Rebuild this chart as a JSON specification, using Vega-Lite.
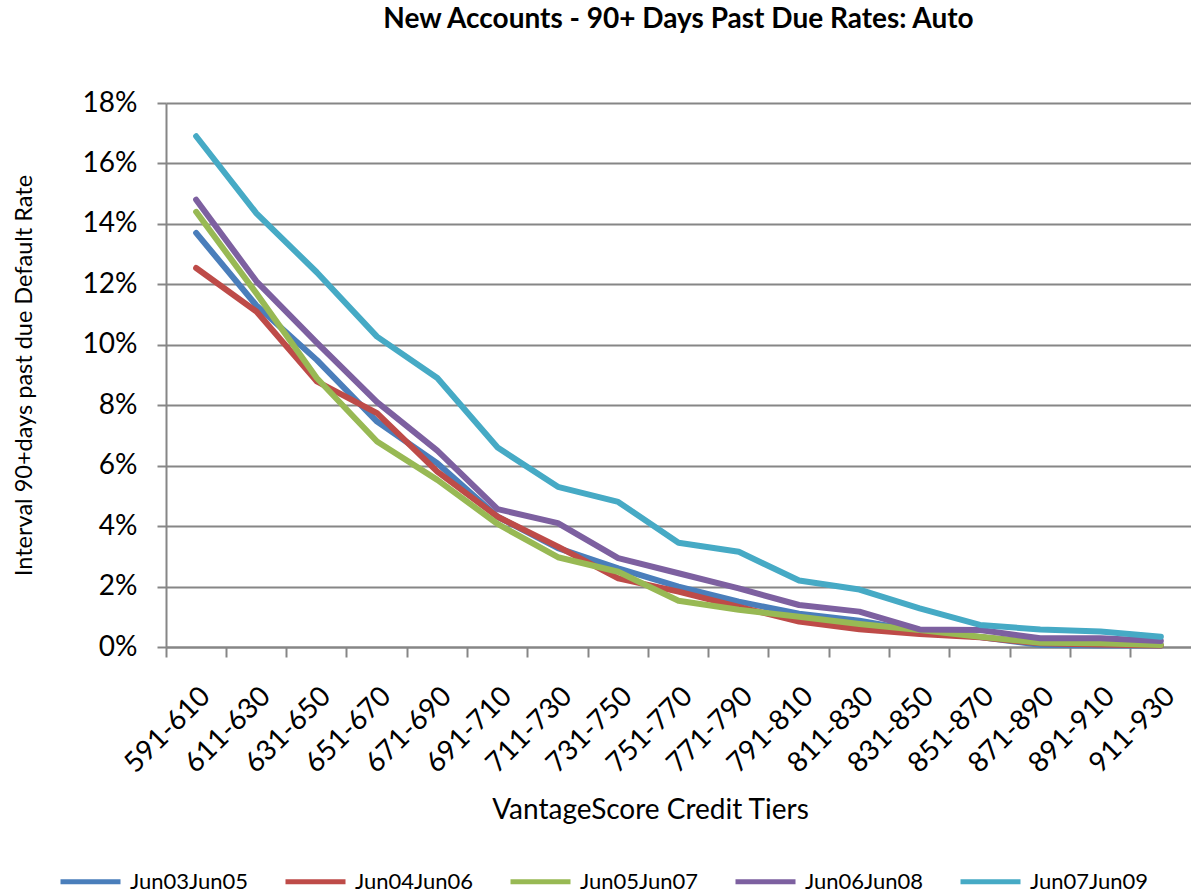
{
  "$schema": "https://vega.github.io/schema/vega-lite/v6.json",
  "width": 1025,
  "height": 544,
  "autosize": "none",
  "padding": {"left": 166, "top": 103, "right": 0, "bottom": 246},
  "background": "white",
  "title": {"text": "New Accounts - 90+ Days Past Due Rates: Auto", "font": "Lato", "fontSize": 28, "fontWeight": "bold", "color": "#000000", "offset": 55, "anchor": "middle"},
  "config": {"view": {"stroke": null}, "font": "Lato"},
  "data": {"values": [
    {"tier": "591-610", "series": "Jun03Jun05", "rate": 0.137},
    {"tier": "611-630", "series": "Jun03Jun05", "rate": 0.113},
    {"tier": "631-650", "series": "Jun03Jun05", "rate": 0.095},
    {"tier": "651-670", "series": "Jun03Jun05", "rate": 0.0746},
    {"tier": "671-690", "series": "Jun03Jun05", "rate": 0.0608},
    {"tier": "691-710", "series": "Jun03Jun05", "rate": 0.0431},
    {"tier": "711-730", "series": "Jun03Jun05", "rate": 0.0327},
    {"tier": "731-750", "series": "Jun03Jun05", "rate": 0.026},
    {"tier": "751-770", "series": "Jun03Jun05", "rate": 0.020},
    {"tier": "771-790", "series": "Jun03Jun05", "rate": 0.015},
    {"tier": "791-810", "series": "Jun03Jun05", "rate": 0.011},
    {"tier": "811-830", "series": "Jun03Jun05", "rate": 0.0087},
    {"tier": "831-850", "series": "Jun03Jun05", "rate": 0.0052},
    {"tier": "851-870", "series": "Jun03Jun05", "rate": 0.0033},
    {"tier": "871-890", "series": "Jun03Jun05", "rate": 0.0007},
    {"tier": "891-910", "series": "Jun03Jun05", "rate": 0.0005},
    {"tier": "911-930", "series": "Jun03Jun05", "rate": 0.0005},
    {"tier": "591-610", "series": "Jun04Jun06", "rate": 0.1254},
    {"tier": "611-630", "series": "Jun04Jun06", "rate": 0.111},
    {"tier": "631-650", "series": "Jun04Jun06", "rate": 0.0879},
    {"tier": "651-670", "series": "Jun04Jun06", "rate": 0.0774},
    {"tier": "671-690", "series": "Jun04Jun06", "rate": 0.058},
    {"tier": "691-710", "series": "Jun04Jun06", "rate": 0.0431},
    {"tier": "711-730", "series": "Jun04Jun06", "rate": 0.0332},
    {"tier": "731-750", "series": "Jun04Jun06", "rate": 0.0227},
    {"tier": "751-770", "series": "Jun04Jun06", "rate": 0.0183},
    {"tier": "771-790", "series": "Jun04Jun06", "rate": 0.0133},
    {"tier": "791-810", "series": "Jun04Jun06", "rate": 0.0084},
    {"tier": "811-830", "series": "Jun04Jun06", "rate": 0.0059},
    {"tier": "831-850", "series": "Jun04Jun06", "rate": 0.0043},
    {"tier": "851-870", "series": "Jun04Jun06", "rate": 0.0032},
    {"tier": "871-890", "series": "Jun04Jun06", "rate": 0.0012},
    {"tier": "891-910", "series": "Jun04Jun06", "rate": 0.0008},
    {"tier": "911-930", "series": "Jun04Jun06", "rate": 0.0005},
    {"tier": "591-610", "series": "Jun05Jun07", "rate": 0.144},
    {"tier": "611-630", "series": "Jun05Jun07", "rate": 0.117},
    {"tier": "631-650", "series": "Jun05Jun07", "rate": 0.089},
    {"tier": "651-670", "series": "Jun05Jun07", "rate": 0.068},
    {"tier": "671-690", "series": "Jun05Jun07", "rate": 0.0553},
    {"tier": "691-710", "series": "Jun05Jun07", "rate": 0.0407},
    {"tier": "711-730", "series": "Jun05Jun07", "rate": 0.0297},
    {"tier": "731-750", "series": "Jun05Jun07", "rate": 0.0249},
    {"tier": "751-770", "series": "Jun05Jun07", "rate": 0.0153},
    {"tier": "771-790", "series": "Jun05Jun07", "rate": 0.0123},
    {"tier": "791-810", "series": "Jun05Jun07", "rate": 0.010},
    {"tier": "811-830", "series": "Jun05Jun07", "rate": 0.0076},
    {"tier": "831-850", "series": "Jun05Jun07", "rate": 0.0056},
    {"tier": "851-870", "series": "Jun05Jun07", "rate": 0.0034},
    {"tier": "871-890", "series": "Jun05Jun07", "rate": 0.0014},
    {"tier": "891-910", "series": "Jun05Jun07", "rate": 0.0012},
    {"tier": "911-930", "series": "Jun05Jun07", "rate": 0.0007},
    {"tier": "591-610", "series": "Jun06Jun08", "rate": 0.148},
    {"tier": "611-630", "series": "Jun06Jun08", "rate": 0.121},
    {"tier": "631-650", "series": "Jun06Jun08", "rate": 0.1007},
    {"tier": "651-670", "series": "Jun06Jun08", "rate": 0.081},
    {"tier": "671-690", "series": "Jun06Jun08", "rate": 0.065},
    {"tier": "691-710", "series": "Jun06Jun08", "rate": 0.0456},
    {"tier": "711-730", "series": "Jun06Jun08", "rate": 0.041},
    {"tier": "731-750", "series": "Jun06Jun08", "rate": 0.0294},
    {"tier": "751-770", "series": "Jun06Jun08", "rate": 0.0244},
    {"tier": "771-790", "series": "Jun06Jun08", "rate": 0.0194},
    {"tier": "791-810", "series": "Jun06Jun08", "rate": 0.0139},
    {"tier": "811-830", "series": "Jun06Jun08", "rate": 0.0117},
    {"tier": "831-850", "series": "Jun06Jun08", "rate": 0.0058},
    {"tier": "851-870", "series": "Jun06Jun08", "rate": 0.0056},
    {"tier": "871-890", "series": "Jun06Jun08", "rate": 0.0029},
    {"tier": "891-910", "series": "Jun06Jun08", "rate": 0.0029},
    {"tier": "911-930", "series": "Jun06Jun08", "rate": 0.002},
    {"tier": "591-610", "series": "Jun07Jun09", "rate": 0.169},
    {"tier": "611-630", "series": "Jun07Jun09", "rate": 0.1435},
    {"tier": "631-650", "series": "Jun07Jun09", "rate": 0.124},
    {"tier": "651-670", "series": "Jun07Jun09", "rate": 0.1027},
    {"tier": "671-690", "series": "Jun07Jun09", "rate": 0.089},
    {"tier": "691-710", "series": "Jun07Jun09", "rate": 0.066},
    {"tier": "711-730", "series": "Jun07Jun09", "rate": 0.053},
    {"tier": "731-750", "series": "Jun07Jun09", "rate": 0.048},
    {"tier": "751-770", "series": "Jun07Jun09", "rate": 0.0345},
    {"tier": "771-790", "series": "Jun07Jun09", "rate": 0.0315},
    {"tier": "791-810", "series": "Jun07Jun09", "rate": 0.022},
    {"tier": "811-830", "series": "Jun07Jun09", "rate": 0.019},
    {"tier": "831-850", "series": "Jun07Jun09", "rate": 0.0128},
    {"tier": "851-870", "series": "Jun07Jun09", "rate": 0.0073},
    {"tier": "871-890", "series": "Jun07Jun09", "rate": 0.0058},
    {"tier": "891-910", "series": "Jun07Jun09", "rate": 0.0051},
    {"tier": "911-930", "series": "Jun07Jun09", "rate": 0.0034}
  ]},
  "mark": {"type": "line", "strokeWidth": 6, "strokeCap": "round", "strokeJoin": "round"},
  "encoding": {
    "x": {
      "field": "tier", "type": "nominal", "sort": null,
      "scale": {"type": "band", "paddingInner": 0, "paddingOuter": 0},
      "axis": {
        "title": "VantageScore Credit Tiers",
        "titleFont": "Lato", "titleFontSize": 28, "titleFontWeight": "normal", "titleColor": "#000000", "titlePadding": 18, "titleX": 484,
        "labelFont": "Lato", "labelFontSize": 28, "labelColor": "#000000", "labelAngle": -45, "labelPadding": 25,
        "bandPosition": 0, "tickSize": 10, "tickColor": "#868686", "tickWidth": 2,
        "domainColor": "#868686", "domainWidth": 2, "grid": false
      }
    },
    "y": {
      "field": "rate", "type": "quantitative",
      "scale": {"domain": [0, 0.18], "nice": false},
      "axis": {
        "title": "Interval 90+days past due Default Rate",
        "titleFont": "Lato", "titleFontSize": 23.5, "titleFontWeight": "normal", "titleColor": "#000000", "titlePadding": 46,
        "labelFont": "Lato", "labelFontSize": 28, "labelColor": "#000000", "labelPadding": 20,
        "values": [0, 0.02, 0.04, 0.06, 0.08, 0.1, 0.12, 0.14, 0.16, 0.18], "format": ".0%",
        "tickSize": 9, "tickColor": "#868686", "tickWidth": 2,
        "domainColor": "#868686", "domainWidth": 2,
        "grid": true, "gridColor": "#868686", "gridWidth": 2
      }
    },
    "color": {
      "field": "series", "type": "nominal",
      "scale": {"domain": ["Jun03Jun05", "Jun04Jun06", "Jun05Jun07", "Jun06Jun08", "Jun07Jun09"], "range": ["#4A7EBB", "#BE4B48", "#98B954", "#7D60A0", "#46AAC5"]},
      "legend": {
        "title": null, "orient": "none", "direction": "horizontal", "columns": 5, "gridAlign": "all",
        "legendX": -108, "legendY": 746,
        "symbolType": "stroke", "symbolSize": 3600, "symbolStrokeWidth": 5,
        "labelFont": "Lato", "labelFontSize": 22, "labelColor": "#000000", "labelOffset": 7,
        "columnPadding": 26, "labelLimit": 300
      }
    }
  }
}
